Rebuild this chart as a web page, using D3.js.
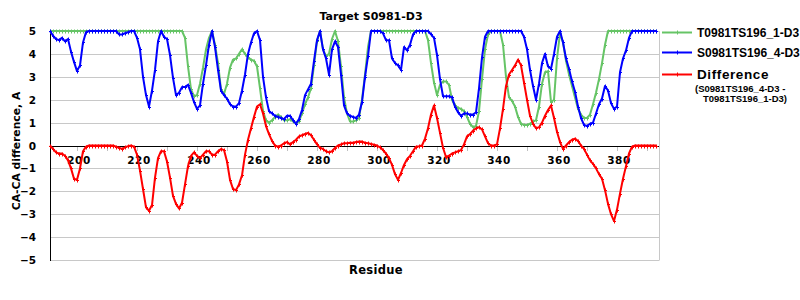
<!DOCTYPE html>
<html><head><meta charset="utf-8">
<script src="https://cdn.jsdelivr.net/npm/d3@7"></script>
<style>body{margin:0;background:#fff}svg{display:block}</style>
</head><body>
<script>
const startResidue = 191, endResidue = 393;
const residues = d3.range(startResidue, endResidue + 1);
const xTickValues = [200,210,220,230,240,250,260,270,280,290,300,310,320,330,340,350,360,370,380,390];
const xLabelValues = [200,220,240,260,280,300,320,340,360,380];
const yTickValues = [5,4,3,2,1,0,-1,-2,-3,-4,-5];
const seriesNames = ["T0981TS196_1-D3","S0981TS196_4-D3","Difference"];

const greenT = [
5,5,5,5,5,5,5,5,5,5,5,5,5,5,5,5,5,5,5,5,5,5,5,5,5,5,5,5,5,5,5,5,5,5,5,5,5,5,5,5,5,5,5,5,
5,4.7,3.45,2.45,2.15,2.2,2.7,3.4,4.2,4.7,5,4.4,3.6,2.45,2.25,2.7,3.4,3.75,3.8,4.0,4.2,4.0,3.85,3.75,3.7,3.45,
2.5,1.5,1.1,1.0,1.1,1.25,1.35,1.25,1.1,1.1,1.15,1.05,1.0,1.05,1.4,1.8,2.1,2.5,3.5,4.55,
5,4.2,3.9,4.0,4.65,5,4.55,3.45,2.1,1.4,1.05,1.05,1.1,1.2,2.0,3.1,4.3,5,
5,5,5,5,5,5,5,5,5,5,5,5,5,5,5,5,5,5,
4.6,3.6,2.75,2.2,2.65,2.8,2.8,2.65,2.0,1.75,1.65,1.6,1.5,1.25,0.95,0.8,0.85,1.5,2.9,4.2,4.85,
5,5,5,5,
4.4,3.0,2.1,1.95,1.7,1.25,0.95,0.9,0.9,0.95,1.05,1.1,1.7,2.7,3.2,3.25,1.9,2.0,3.8,4.9,
4.5,3.7,3.1,2.6,2.1,1.6,1.35,1.2,1.2,1.35,1.8,2.3,2.9,3.6,4.4,
5,5,5,5,5,5,5,5,5,5,5,5,5,5,5,5,5];

const blueS = [
5,4.8,4.65,4.6,4.7,4.55,4.65,4.1,3.65,3.25,3.5,4.5,4.95,
5,5,5,5,5,5,5,5,5,5,
4.85,4.85,4.9,4.95,5,5,4.7,4.2,3.0,2.2,1.7,2.4,3.3,4.55,5,4.75,4.65,3.95,2.95,2.2,
2.3,2.55,2.55,2.65,2.3,1.9,1.6,1.75,2.7,3.5,4.4,5,4.3,3.3,2.4,2.2,2.05,1.8,1.7,1.7,
1.85,2.4,3.1,4.0,4.5,4.9,5,4.6,3.0,2.1,1.5,1.4,1.3,1.25,1.2,1.15,1.3,1.3,1.1,0.95,
1.15,1.55,2.2,2.45,2.7,3.7,4.6,5,4.2,3.8,3.1,4.2,4.55,4.3,3.1,1.75,1.4,1.3,1.25,1.2,
1.35,1.9,3.0,3.9,5,5,5,5,4.9,4.6,4.6,3.8,3.6,3.5,3.3,4.3,4.15,4.4,4.85,5,
5,5,5,5,4.85,4.7,3.95,2.9,2.15,2.15,2.15,2.1,1.7,1.45,1.3,1.4,1.4,1.35,1.35,1.45,
2.5,3.85,4.75,
5,5,5,5,5,5,5,5,5,5,5,5,
4.75,4.2,3.3,2.6,2.0,2.7,3.6,4.0,3.45,3.35,4.0,4.75,5,4.5,3.8,3.35,2.8,2.35,1.7,1.2,
0.9,0.85,0.95,1.0,1.4,1.8,2.05,2.6,2.4,1.85,1.6,1.7,3.2,3.8,4.15,4.7,
5,5,5,5,5,5,5,5,5];

const redDiff = [
0,-0.15,-0.3,-0.35,-0.35,-0.45,-0.65,-1.0,-1.45,-1.5,-1.0,-0.25,-0.05,
0,0,0,0,0,0,0,0,0,
-0.05,-0.1,-0.15,-0.08,-0.03,0,-0.05,-0.4,-1.1,-1.9,-2.7,-2.85,-2.6,-1.4,-0.55,-0.25,-0.25,-0.7,-1.4,-2.2,
-2.55,-2.75,-2.5,-1.7,-0.9,-0.45,-0.3,-0.45,-0.55,-0.4,-0.25,-0.25,-0.4,-0.4,-0.25,-0.15,-0.2,-0.7,-1.5,-1.9,
-1.95,-1.7,-1.3,-0.4,0.25,0.75,1.25,1.7,1.8,1.4,0.85,0.5,0.2,0,-0.05,0,0.1,0.15,0.05,0.15,
0.25,0.4,0.45,0.5,0.55,0.45,0.25,0.05,-0.1,-0.15,-0.25,-0.3,-0.25,-0.1,0,0.05,0.1,0.1,0.12,0.12,
0.15,0.17,0.17,0.12,0.1,0.07,0.03,0,-0.08,-0.2,-0.35,-0.55,-0.85,-1.25,-1.5,-1.2,-0.85,-0.6,-0.45,-0.25,
-0.05,-0.03,0,0.3,0.75,1.35,1.75,1.2,0.55,-0.1,-0.5,-0.45,-0.35,-0.3,-0.25,-0.2,0.05,0.4,0.5,0.65,
0.75,0.8,0.7,0.4,0.1,0,0,0.05,0.75,1.6,2.6,3.1,3.3,3.5,3.75,3.5,2.75,2.0,1.3,0.95,
0.75,0.8,1.0,1.3,1.55,1.75,1.2,0.6,0.15,-0.15,0,0.15,0.25,0.3,0.2,0,-0.15,-0.4,-0.65,-0.8,
-1.0,-1.25,-1.45,-1.95,-2.55,-3.0,-3.3,-2.8,-2.1,-1.45,-0.9,-0.35,-0.05,
0,0,0,0,0,0,0,0];

const colors = {green:"#66c466", blue:"#0000ff", red:"#ff0000"};

const W = 800, H = 300;
const svg = d3.select("body").append("svg").attr("width", W).attr("height", H);
const x = d3.scaleLinear().domain([191, 394]).range([50, 659]);
const y = d3.scaleLinear().domain([-5, 5]).range([260, 31]);

// grid
svg.append("g").selectAll("line").data(yTickValues).join("line")
  .attr("x1", x(191)).attr("x2", x(394))
  .attr("y1", d => Math.round(y(d)) + 0.5).attr("y2", d => Math.round(y(d)) + 0.5)
  .attr("stroke", "#c8c8c8").attr("stroke-width", 1);
// right border
svg.append("line").attr("x1", x(394)+0.5).attr("x2", x(394)+0.5).attr("y1", y(5)).attr("y2", y(-5)+0.5)
  .attr("stroke", "#c8c8c8");

// x ticks on zero line
svg.append("g").selectAll("line").data(xTickValues).join("line")
  .attr("x1", d => Math.round(x(d)) + 0.5).attr("x2", d => Math.round(x(d)) + 0.5)
  .attr("y1", Math.round(y(0))).attr("y2", Math.round(y(0)) + 5)
  .attr("stroke", "#c0c0c0");

// zero line & left axis
svg.append("line").attr("x1", x(191)).attr("x2", x(394)).attr("y1", Math.round(y(0))+0.5).attr("y2", Math.round(y(0))+0.5)
  .attr("stroke", "#000");
svg.append("line").attr("x1", 50.5).attr("x2", 50.5).attr("y1", y(5)).attr("y2", y(-5)+1)
  .attr("stroke", "#000");

// y tick labels
svg.append("g").selectAll("text").data(yTickValues).join("text")
  .attr("x", 36).attr("y", d => y(d) + 4)
  .attr("text-anchor", "end")
  .attr("font-family", "DejaVu Sans").attr("font-weight", "bold").attr("font-size", 10.5)
  .text(d => d < 0 ? "\u2212" + Math.abs(d) : d);

// x tick labels
svg.append("g").selectAll("text").data(xLabelValues).join("text")
  .attr("x", d => x(d) + 2).attr("y", y(0) + 18)
  .attr("text-anchor", "middle")
  .attr("font-family", "DejaVu Sans").attr("font-weight", "bold").attr("font-size", 10.5)
  .attr("letter-spacing", 0.5)
  .text(d => d);

// axis titles
svg.append("text").attr("x", 376).attr("y", 274).attr("text-anchor", "middle")
  .attr("font-family", "DejaVu Sans").attr("font-weight", "bold").attr("font-size", 11.5)
  .attr("letter-spacing", 0.3).text("Residue");
svg.append("text").attr("transform", "translate(20,151) rotate(-90)").attr("text-anchor", "middle")
  .attr("font-family", "DejaVu Sans").attr("font-weight", "bold").attr("font-size", 10.8)
  .text("CA-CA difference, A");
svg.append("text").attr("x", 371).attr("y", 20).attr("text-anchor", "middle")
  .attr("font-family", "DejaVu Sans").attr("font-weight", "bold").attr("font-size", 11)
  .text("Target S0981-D3");

// series
const series = [
  {vals: greenT, color: colors.green},
  {vals: blueS, color: colors.blue},
  {vals: redDiff, color: colors.red}
];
const line = d3.line().x(d => x(d[0])).y(d => y(d[1]));
series.forEach(s => {
  const pts = residues.map((r, i) => [r, s.vals[i]]);
  const g = svg.append("g");
  g.append("path").attr("d", line(pts)).attr("fill", "none")
    .attr("stroke", s.color).attr("stroke-width", 2).attr("stroke-linejoin", "round");
  g.selectAll("path.m").data(pts).join("path").attr("class", "m")
    .attr("d", d => { const cx = Math.round(x(d[0])) + 0.5, cy = Math.round(y(d[1])) + 0.5;
      return `M${cx-1.5},${cy}H${cx+1.5}M${cx},${cy-2}V${cy+2}`; })
    .attr("stroke", s.color).attr("stroke-width", 1);
});

// legend
const leg = [
  {name: seriesNames[0], color: colors.green, ly: 32.5, ty: 37, size: 12},
  {name: seriesNames[1], color: colors.blue, ly: 52.5, ty: 57, size: 12},
  {name: seriesNames[2], color: colors.red, ly: 74.5, ty: 79, size: 13.5}
];
leg.forEach(l => {
  svg.append("line").attr("x1", 662).attr("x2", 692).attr("y1", l.ly).attr("y2", l.ly)
    .attr("stroke", l.color).attr("stroke-width", 2);
  svg.append("path").attr("d", `M677.5,${l.ly-2}V${l.ly+2}`).attr("stroke", l.color);
  svg.append("text").attr("x", 697).attr("y", l.ty)
    .attr("font-family", "Liberation Sans, Arial").attr("font-weight", "bold").attr("font-size", l.size)
    .attr("letter-spacing", l.size > 13 ? 0.6 : 0)
    .text(l.name);
});
svg.append("text").attr("x", 695).attr("y", 91.5)
  .attr("font-family", "Liberation Sans, Arial").attr("font-weight", "bold").attr("font-size", 9.5)
  .text("(S0981TS196_4-D3 -");
svg.append("text").attr("x", 703).attr("y", 102)
  .attr("font-family", "Liberation Sans, Arial").attr("font-weight", "bold").attr("font-size", 9.5)
  .text("T0981TS196_1-D3)");
</script>
</body></html>
